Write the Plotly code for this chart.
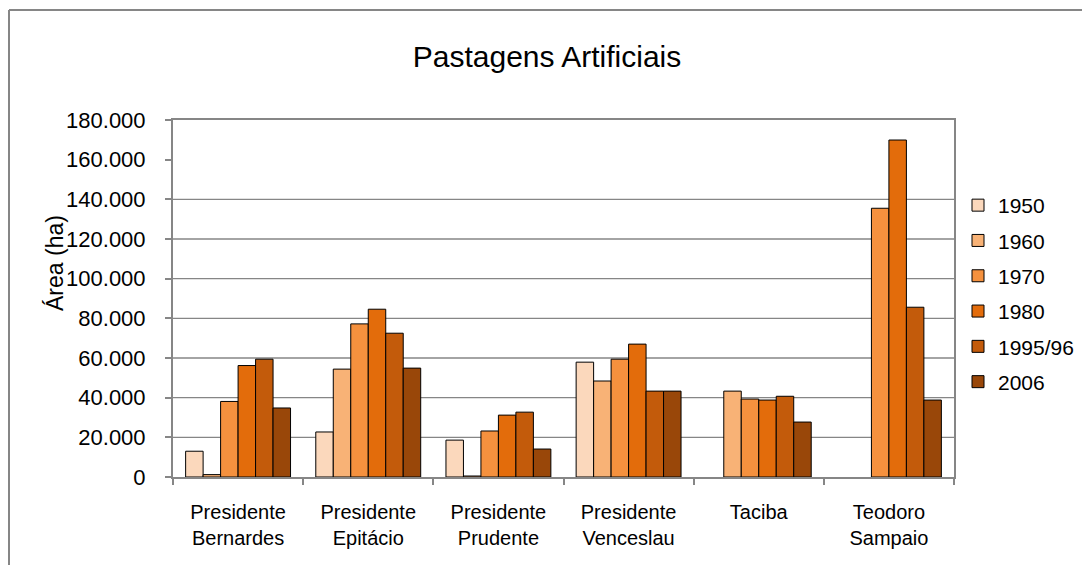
import plotly.graph_objects as go

# Municipalities (x categories) and census years (series)
municipios = [
    "Presidente<br>Bernardes",
    "Presidente<br>Epitácio",
    "Presidente<br>Prudente",
    "Presidente<br>Venceslau",
    "Taciba",
    "Teodoro<br>Sampaio",
]
anos = ["1950", "1960", "1970", "1980", "1995/96", "2006"]

# Artificial pasture area (ha) per municipality, one list per year
area_1950 = [13000, 22700, 18600, 57900, None, None]
area_1960 = [1200, 54400, 500, 48400, 43300, None]
area_1970 = [38100, 77200, 23200, 59400, 39300, 135500]
area_1980 = [56200, 84600, 31200, 67000, 38800, 169900]
area_1995 = [59400, 72500, 32700, 43300, 40700, 85600]
area_2006 = [34800, 54900, 14100, 43300, 27700, 38800]

series = [area_1950, area_1960, area_1970, area_1980, area_1995, area_2006]
cores = ["#FBD8BC", "#F8B276", "#F5913E", "#E36C0B", "#C35B0B", "#994709"]

# Horizontal gridlines drawn by hand (the 160.000 line is absent)
linhas_grade = [20000, 40000, 60000, 80000, 100000, 120000, 140000]
y_ticks = [0, 20000, 40000, 60000, 80000, 100000, 120000, 140000, 160000, 180000]

W, H = 1082, 565
ML, MR, MT, MB = 173, 128, 120, 88
PW, PH = W - ML - MR, H - MT - MB


def px_x(x):
    return (x - ML) / PW


def px_y(y):
    return (H - MB - y) / PH


FONT = "Liberation Sans, Arial, sans-serif"
GRAY = "#868686"

fig = go.Figure()
for ano, valores, cor in zip(anos, series, cores):
    fig.add_trace(go.Bar(
        name=ano,
        x=municipios,
        y=valores,
        marker=dict(color=cor, line=dict(color="black", width=1)),
        legendgroup=ano,
    ))

shapes = []
for v in linhas_grade:
    shapes.append(dict(type="line", xref="paper", yref="y", x0=0, x1=1, y0=v, y1=v,
                       line=dict(color=GRAY, width=1.3), layer="below"))

# outer chart frame (left and top edges visible)
shapes.append(dict(type="line", xref="paper", yref="paper",
                   x0=px_x(9), x1=px_x(9), y0=px_y(10), y1=px_y(570),
                   line=dict(color=GRAY, width=2)))
shapes.append(dict(type="line", xref="paper", yref="paper",
                   x0=px_x(9), x1=px_x(1090), y0=px_y(10), y1=px_y(10),
                   line=dict(color=GRAY, width=2)))

fig.update_layout(
    width=W, height=H,
    margin=dict(l=ML, r=MR, t=MT, b=MB, autoexpand=False),
    paper_bgcolor="white", plot_bgcolor="white",
    separators=",.",
    barmode="group", bargap=0.194, bargroupgap=0,
    font=dict(family=FONT, color="black"),
    title=dict(text="Pastagens Artificiais", x=547 / W, xanchor="center",
               y=1 - 56 / H, yanchor="middle", xref="container", yref="container",
               font=dict(size=30, family=FONT, color="black")),
    legend=dict(x=px_x(958), xanchor="left", y=px_y(185), yanchor="top",
                font=dict(size=21, family=FONT), tracegroupgap=5,
                itemwidth=30, bgcolor="rgba(0,0,0,0)"),
    shapes=shapes,
    annotations=[dict(text="Área (ha)", xref="paper", yref="paper",
                      x=px_x(55), y=px_y(263), textangle=-90, showarrow=False,
                      xanchor="center", yanchor="middle",
                      font=dict(size=23, family=FONT, color="black"))],
)

fig.update_xaxes(
    showline=True, linecolor=GRAY, linewidth=1.5, mirror=True,
    ticks="outside", tickson="boundaries", ticklen=6, tickcolor=GRAY, tickwidth=1.5,
    tickfont=dict(size=20, family=FONT, color="black"),
    ticklabelstandoff=16, showgrid=False,
)
fig.update_yaxes(
    range=[0, 180000], tickvals=y_ticks, tickformat=",.0f",
    showline=True, linecolor=GRAY, linewidth=2, mirror=True,
    ticks="outside", ticklen=6, tickcolor=GRAY, tickwidth=1.5,
    tickfont=dict(size=22, family=FONT, color="black"),
    ticklabelstandoff=15, showgrid=False, zeroline=False,
)

fig.write_html("out.html")
